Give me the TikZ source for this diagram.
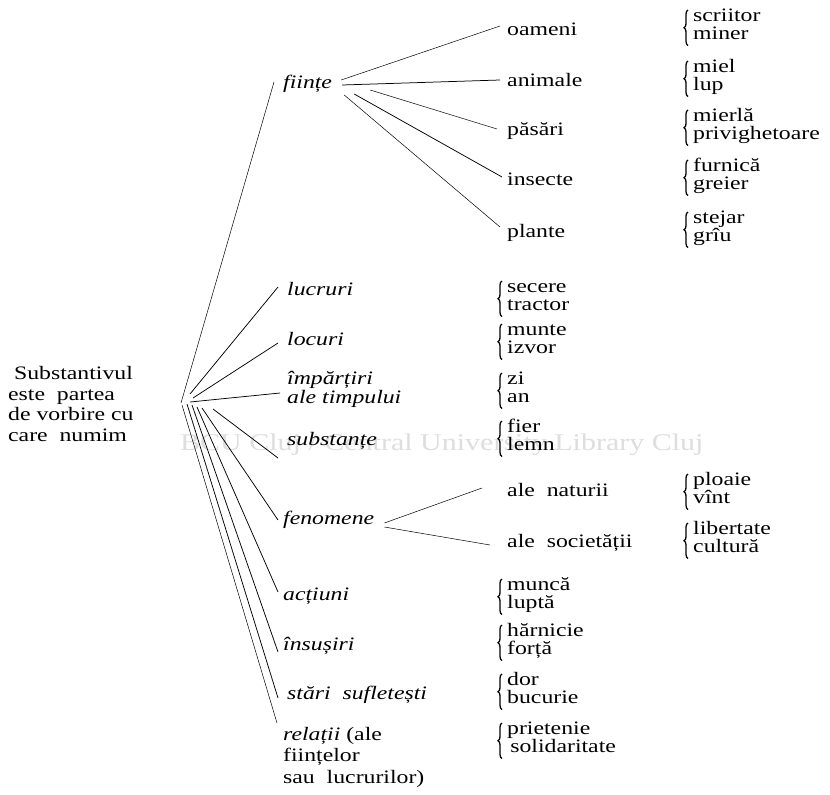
\documentclass[tikz,border=0pt]{standalone}
\usepackage{fontspec}
\setmainfont{Liberation Serif}[FakeStretch=1.25]
\usetikzlibrary{decorations.pathreplacing,calc}
\tikzset{
  txt/.style={anchor=west, inner sep=0pt, text height=0.7em, text depth=0.2em, font=\fontsize{19}{20}\selectfont},
  cat/.style={txt, font=\fontsize{19}{20}\selectfont\itshape},
  rootst/.style={anchor=west, inner sep=0pt, align=left, font=\fontsize{19}{20.5}\selectfont},
  fan/.style={line width=0.75pt},
  thinfan/.style={line width=0.5pt},
  brc/.style={decorate, decoration={brace, amplitude=4pt}, line width=1.3pt},
  wm/.style={text=black!13, font=\fontsize{24}{25}\selectfont, anchor=west, inner sep=0pt}
}
\newcommand\bpair[5]{%
  \node[txt] (#1a) at (#2,#3) {#4};
  \node[txt] (#1b) at (#2,#3+17.5) {#5};
  \draw[brc] ($(#1b.west)+(-5,9)$) -- ($(#1a.west)+(-5,-9)$);
}
\begin{document}
\begin{tikzpicture}[x=1pt,y=-1pt]
\fill[white] (0,0) rectangle (830,795);
\useasboundingbox (0,0) rectangle (830,795);
% watermark
\node[wm] (wmark) at (180,445) {BCU Cluj / Central University Library Cluj};
% root
\node[rootst] (root) at (8,404) {\ Substantivul\\este\ \ partea\\de vorbire cu\\care\ \ numim};
% level 1
\node[cat] (fiinte) at (283,86) {ființe};
\node[cat] (lucruri) at (287,293) {lucruri};
\node[cat] (locuri) at (287,343) {locuri};
\node[cat] (imp) at (287,382) {împărțiri};
\node[cat] (impb) at (287,401) {ale\ timpului};
\node[cat] (subst) at (287,443) {substanțe};
\node[cat] (fen) at (283,522) {fenomene};
\node[cat] (act) at (283,598) {acțiuni};
\node[cat] (insus) at (283,648) {însușiri};
\node[cat] (stari) at (287,697) {stări\ \ sufletești};
\node[txt] (rela) at (283,738) {\textit{relații} (ale};
\node[txt] (relb) at (283,759) {ființelor};
\node[txt] (relc) at (283,781) {sau\ \ lucrurilor)};
% fan from root
\draw[thinfan] (181,403) -- ($(fiinte.west)+(-9,-4)$);
\draw[fan] (190,394) -- ($(lucruri.west)+(-9,-6)$);
\draw[fan] (193,398) -- ($(locuri.west)+(-9,0)$);
\draw[fan] (190,402) -- ($(imp.west)+(-7,11)$);
\draw[fan] (213,409) -- ($(subst.west)+(-9,15)$);
\draw[fan] (202,408) -- ($(fen.west)+(-5,-2)$);
\draw[fan] (197,407) -- ($(act.west)+(-5,-6)$);
\draw[fan] (192,405) -- ($(insus.west)+(-5,4)$);
\draw[fan] (187,404) -- ($(stari.west)+(-9,1)$);
\draw[thinfan] (182,405) -- ($(rela.west)+(-6,-15)$);
% fiinte leaves
\node[txt] (oameni) at (507,33) {oameni};
\node[txt] (animale) at (507,84) {animale};
\node[txt] (pasari) at (507,133) {păsări};
\node[txt] (insecte) at (507,183) {insecte};
\node[txt] (plante) at (507,235) {plante};
\draw[thinfan] ($(fiinte.east)+(9,-6)$) -- ($(oameni.west)+(-7,-7)$);
\draw[fan] ($(fiinte.east)+(10,-1)$) -- ($(animale.west)+(-7,-4)$);
\draw[thinfan] ($(fiinte.east)+(38,4)$) -- ($(pasari.west)+(-10,-4)$);
\draw[fan] ($(fiinte.east)+(22,8)$) -- ($(insecte.west)+(-5,-6)$);
\draw[thinfan] ($(fiinte.east)+(12,9)$) -- ($(plante.west)+(-7,-8)$);
% fenomene leaves
\node[txt] (nat) at (507,494) {ale\ \ naturii};
\node[txt] (soc) at (507,545) {ale\ \ societății};
\draw[thinfan] ($(fen.east)+(10,1)$) -- ($(nat.west)+(-25,-6)$);
\draw[thinfan] ($(fen.east)+(10,5)$) -- ($(soc.west)+(-17,0)$);
% brace pairs, right column
\bpair{scr}{693}{19}{scriitor}{miner}
\bpair{miel}{693}{70}{miel}{lup}
\bpair{mier}{693}{119}{mierlă}{privighetoare}
\bpair{furn}{693}{169}{furnică}{greier}
\bpair{stej}{693}{221}{stejar}{grîu}
\bpair{ploa}{693}{483}{ploaie}{vînt}
\bpair{lib}{693}{532}{libertate}{cultură}
% brace pairs, middle column
\bpair{sec}{507}{290}{secere}{tractor}
\bpair{mun}{507}{333}{munte}{izvor}
\bpair{zi}{507}{382}{zi}{an}
\bpair{fier}{507}{430}{fier}{lemn}
\bpair{munc}{507}{588}{muncă}{luptă}
\bpair{harn}{507}{634}{hărnicie}{forță}
\bpair{dor}{507}{683}{dor}{bucurie}
\bpair{prie}{507}{732}{prietenie}{\,solidaritate}
\end{tikzpicture}
\end{document}
